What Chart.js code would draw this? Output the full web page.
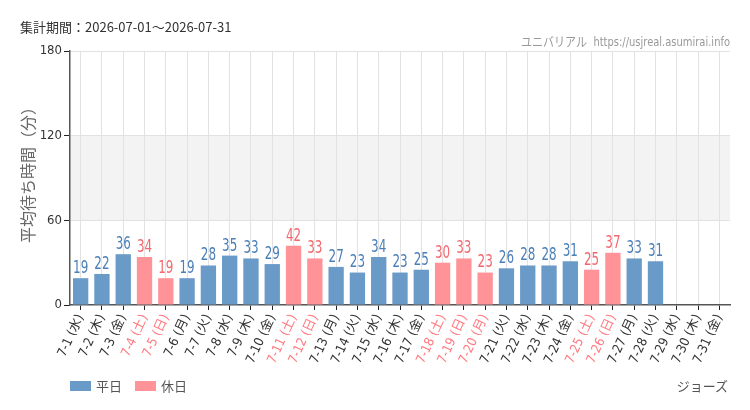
<!DOCTYPE html>
<html><head><meta charset="utf-8">
<script src="https://cdn.jsdelivr.net/npm/chart.js@4/dist/chart.umd.min.js"></script>
<style>
html,body{margin:0;padding:0;background:#fff;}
#wrap{position:relative;width:750px;height:410px;font-family:"Noto Sans CJK JP","Noto Sans",sans-serif;}
canvas{position:absolute;left:0;top:0;}
.t{position:absolute;white-space:nowrap;}
#title{left:20px;top:17px;font-size:13px;color:#333;}
#site{right:20px;top:31px;font-size:13px;color:#999;font-family:"DejaVu Sans Condensed","Noto Sans CJK JP",sans-serif;transform:scaleX(0.85);transform-origin:right center;}
#ytitle{left:27px;top:171px;font-size:16px;color:#666;transform:translate(-50%,-50%) rotate(-90deg);}
.lb{position:absolute;top:381px;width:21px;height:10px;}
.lt{top:376px;font-size:13px;color:#555;}
#attr{right:22px;top:376px;font-size:13px;color:#555;}
</style></head>
<body><div id="wrap">
<canvas id="c" width="750" height="410"></canvas>
<div class="t" id="title">集計期間：2026-07-01～2026-07-31</div>
<div class="t" id="site">ユニバリアル&nbsp; https://usjreal.asumirai.info</div>
<div class="t" id="ytitle">平均待ち時間（分）</div>
<div class="lb" style="left:70px;background:#6a9ac7"></div><div class="t lt" style="left:96px">平日</div>
<div class="lb" style="left:135px;background:#ff9398"></div><div class="t lt" style="left:161px">休日</div>
<div class="t" id="attr">ジョーズ</div>
</div>
<script>
const categories = ["7-1 (水)","7-2 (木)","7-3 (金)","7-4 (土)","7-5 (日)","7-6 (月)","7-7 (火)","7-8 (水)","7-9 (木)","7-10 (金)","7-11 (土)","7-12 (日)","7-13 (月)","7-14 (火)","7-15 (水)","7-16 (木)","7-17 (金)","7-18 (土)","7-19 (日)","7-20 (月)","7-21 (火)","7-22 (水)","7-23 (木)","7-24 (金)","7-25 (土)","7-26 (日)","7-27 (月)","7-28 (火)","7-29 (水)","7-30 (木)","7-31 (金)"];
const waitTimes = [19,22,36,34,19,19,28,35,33,29,42,33,27,23,34,23,25,30,33,23,26,28,28,31,25,37,33,31,null,null,null];
const holidays = [false,false,false,true,true,false,false,false,false,false,true,true,false,false,false,false,false,true,true,true,false,false,false,false,true,true,false,false,false,false,false];
const yTicks = [0,60,120,180];

const BLUE="#6a9ac7", PINK="#ff9398", BLUE_T="#4a7fb8", PINK_T="#f2686e";
const condensed='"DejaVu Sans Condensed","Liberation Sans Narrow","Noto Sans CJK JP",sans-serif';

const bandPlugin={id:'band',beforeDraw(chart){
  const {ctx,chartArea:a,scales:{y}}=chart;
  ctx.save();ctx.fillStyle="#f3f3f3";
  const t=y.getPixelForValue(120),b=y.getPixelForValue(60);
  ctx.fillRect(a.left,t,a.right-a.left,b-t);ctx.restore();
}};
const labelPlugin={id:'vals',afterDatasetsDraw(chart){
  const {ctx}=chart;const meta=chart.getDatasetMeta(0);
  ctx.save();ctx.font='17px '+condensed;ctx.textAlign='center';ctx.textBaseline='bottom';
  meta.data.forEach((el,i)=>{
    const v=waitTimes[i]; if(v==null)return;
    ctx.fillStyle=holidays[i]?PINK_T:BLUE_T;
    ctx.save();ctx.translate(el.x,el.y-1);ctx.scale(0.78,1);ctx.fillText(String(v),0,0);ctx.restore();
  });
  ctx.restore();
}};

new Chart(document.getElementById('c'),{
  type:'bar',
  data:{labels:categories,datasets:[{data:waitTimes,
    backgroundColor:holidays.map(h=>h?PINK:BLUE),
    borderColor:holidays.map(h=>h?"#ff8a90":"#6394c2"),borderWidth:0,
    categoryPercentage:0.8,barPercentage:0.9}]},
  options:{responsive:false,animation:false,
    layout:{padding:{top:51,right:20,left:0,bottom:0}},
    plugins:{legend:{display:false},tooltip:{enabled:false}},
    scales:{
      x:{grid:{offset:false,color:"#e2e2e2",tickColor:"#222",tickLength:5,drawOnChartArea:true},
        border:{color:"#555",width:1.5},
        ticks:{autoSkip:false,maxRotation:65,minRotation:65,padding:2,
          color:(c)=>holidays[c.index]?"#ff7a80":"#333",
          font:{size:13,family:condensed}},
        afterFit(s){s.height=105;}},
      y:{min:0,max:180,
        afterBuildTicks(s){s.ticks=yTicks.map(v=>({value:v}));},
        grid:{color:(c)=>(c.tick&&(c.tick.value===60||c.tick.value===120||c.tick.value===180))?"#e2e2e2":"transparent",tickColor:"#222",tickLength:6},
        border:{color:"#555",width:1.5},
        ticks:{color:"#333",padding:2,font:{size:13,family:condensed}},
        afterFit(s){s.width=70;}}
    }},
  plugins:[bandPlugin,labelPlugin]
});
</script></body></html>
